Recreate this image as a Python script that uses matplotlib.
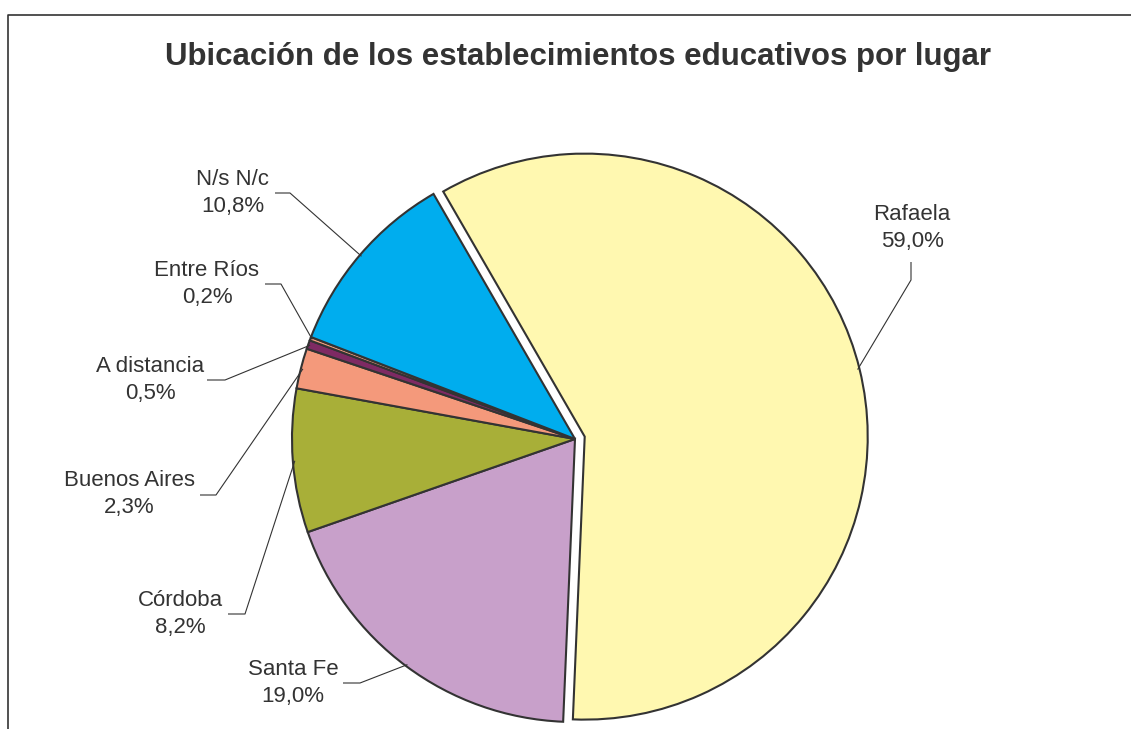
import numpy as np
import matplotlib
matplotlib.use("Agg")
import matplotlib.pyplot as plt

# data
labels = ['Rafaela', 'Santa Fe', 'Córdoba', 'Buenos Aires', 'A distancia', 'Entre Ríos', 'N/s N/c']
values = [59.0, 19.0, 8.2, 2.3, 0.5, 0.2, 10.8]
colors = ['#FFF8B0', '#C8A0CA', '#A8AF38', '#F4997B', '#7E2A63', '#F4A07E', '#00ADEE']
explode = [10, 0, 0, 0, 0, 0, 0]

title = 'Ubicación de los establecimientos educativos por lugar'

W, H = 1131, 729
cx, cy, r = 575, 439, 283

# label text centers and leader elbow / end points (pixels, y down)
text_pos = [(912, 228), (293, 683), (180, 614), (129, 494), (150, 380), (207, 284), (233, 193)]
elbow = [(911, 280), (360, 683), (245, 614), (216, 495), (225, 380), (281, 284), (290, 193)]
tail = [(911, 262), (343, 683), (228, 614), (200, 495), (207, 380), (265, 284), (275, 193)]

dark = '#333333'
plt.rcParams['font.family'] = ['Liberation Sans', 'DejaVu Sans']

fig = plt.figure(figsize=(W / 100, H / 100), dpi=100)
ax = fig.add_axes([0, 0, 1, 1])

wedges, _ = ax.pie(values, colors=colors, explode=explode, startangle=120,
                   counterclock=False, radius=r, center=(cx, H - cy),
                   wedgeprops=dict(edgecolor=dark, linewidth=1.5))

for i, w in enumerate(wedges):
    mid = np.deg2rad((w.theta1 + w.theta2) / 2)
    ex, ey = w.center
    px = ex + (r - 2) * np.cos(mid)
    py = ey + (r - 2) * np.sin(mid)
    xs = [px, elbow[i][0], tail[i][0]]
    ys = [py, H - elbow[i][1], H - tail[i][1]]
    ax.plot(xs, ys, color=dark, lw=0.8, solid_capstyle='butt')
    txt = labels[i] + '\n' + ('%.1f%%' % values[i]).replace('.', ',')
    ax.text(text_pos[i][0], H - text_pos[i][1], txt, ha='center', va='center',
            fontsize=16, color=dark, linespacing=1.35)

ax.text(578, H - 57, title, ha='center', va='center', fontsize=22.5,
        fontweight='bold', color=dark)

# chart area border (runs off right and bottom)
ax.plot([8, 8, W + 5], [-5, H - 15, H - 15], color=dark, lw=1.2)

ax.set_xlim(0, W)
ax.set_ylim(0, H)
ax.set_aspect('equal')
ax.axis('off')

fig.savefig('out.png', dpi=100)
